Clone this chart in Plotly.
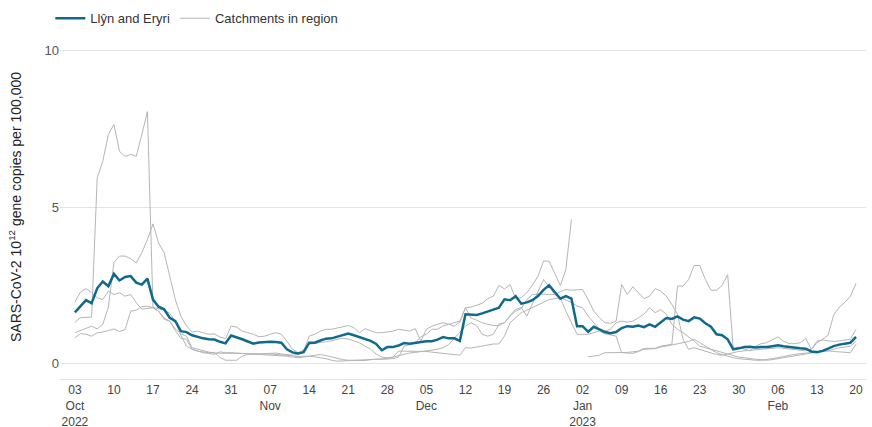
import pandas as pd
import plotly.graph_objects as go

start_date = "2022-10-03"
end_date = "2023-02-20"

llyn_eryri = [
    1.63, 1.81, 2.02, 1.92, 2.40, 2.62, 2.47,
    2.86, 2.65, 2.76, 2.79, 2.58, 2.52, 2.71,
    2.04, 1.81, 1.73, 1.46, 1.35, 1.03, 1.00,
    0.90, 0.84, 0.80, 0.77, 0.76, 0.69, 0.64,
    0.89, 0.84, 0.77, 0.70, 0.63, 0.67, 0.69,
    0.69, 0.68, 0.66, 0.45, 0.35, 0.32, 0.36,
    0.66, 0.66, 0.73, 0.79, 0.80, 0.85, 0.89,
    0.95, 0.90, 0.84, 0.78, 0.72, 0.62, 0.42,
    0.52, 0.52, 0.57, 0.65, 0.63, 0.66, 0.69,
    0.71, 0.71, 0.76, 0.84, 0.80, 0.80, 0.72,
    1.57, 1.55, 1.55, 1.60, 1.65, 1.72, 1.78,
    2.05, 2.02, 2.15, 1.91, 1.95, 2.02, 2.15,
    2.35, 2.50, 2.28, 2.07, 2.15, 2.07, 1.19,
    1.19, 1.01, 1.17, 1.09, 1.00, 0.96, 1.00,
    1.13, 1.19, 1.17, 1.21, 1.16, 1.25, 1.17,
    1.30, 1.45, 1.42, 1.50, 1.40, 1.35, 1.47,
    1.43, 1.28, 1.17, 0.93, 0.90, 0.77, 0.45,
    0.48, 0.52, 0.53, 0.51, 0.52, 0.52, 0.55,
    0.58, 0.55, 0.52, 0.50, 0.48, 0.47, 0.38,
    0.36, 0.40, 0.47, 0.55, 0.60, 0.62, 0.66,
    0.85,
]

catchment_1 = [
    1.31, 1.46, 1.47, 1.48, 5.93, 6.46, 7.32,
    7.64, 6.78, 6.62, 6.68, 6.62, 7.32, 8.05,
    1.79, 1.75, 1.70, 1.60, 1.35, 0.90, 0.55,
    0.45, 0.39, 0.34, 0.32, 0.29, 0.37, 0.34,
    0.34, 0.33, 0.32, 0.31, 0.30, 0.30, 0.29,
    0.28, 0.27, 0.25, 0.23, 0.20, 0.18, 0.20,
    0.23, 0.21, 0.19, 0.15, 0.10, 0.07, 0.08,
    0.09, 0.10, 0.11, 0.12, 0.13, 0.13, 0.13,
    0.15, 0.20, 0.39, 0.39, 0.39, 0.39, 0.39,
    0.38, 0.36, 0.34, 0.31, 0.29, 0.27, 0.26,
    0.50, 0.49, 0.52, 0.55, 0.58, 0.62, 0.62,
    0.87, 1.30, 1.46, 1.62, 1.70, 1.78, 1.88,
    1.95, 2.04, 2.07, 2.10, 1.67, 1.30, 0.93,
    0.93, 0.93, 0.98, 1.03, 0.95, 0.90, 0.87,
    0.34, 0.33, 0.32, 0.38, 0.45, 0.46, 0.47,
    0.52, 0.55, 0.58, 0.61, 0.66, 0.70, 0.77,
    0.66, 0.55, 0.45, 0.34, 0.28, 0.22, 0.18,
    0.15, 0.13, 0.12, 0.10, 0.10, 0.12, 0.15,
    0.18, 0.22, 0.26, 0.29, 0.31, 0.33, 0.34,
    0.36, 0.38, 0.40, 0.45, 0.50, 0.52, 0.55,
    0.70,
]

catchment_2 = [
    0.98, 1.05, 1.14, 1.19, 1.10, 1.25, 1.80,
    3.22, 3.43, 3.43, 3.35, 3.21, 3.54, 3.96,
    4.46, 3.85, 3.54, 2.79, 2.04, 1.51, 1.20,
    1.00, 1.03, 0.98, 0.93, 0.94, 0.84, 0.79,
    1.19, 1.16, 1.03, 0.98, 0.93, 0.85, 0.87,
    0.93, 0.98, 0.93, 0.71, 0.45, 0.34, 0.40,
    0.87, 0.93, 1.03, 1.09, 1.09, 1.13, 1.16,
    1.21, 1.14, 0.98, 1.11, 1.05, 0.98, 0.98,
    1.00, 1.03, 1.09, 1.06, 1.03, 1.11, 0.71,
    1.09, 1.19, 1.25, 1.30, 1.25, 1.19, 1.32,
    1.78, 1.80, 1.85, 1.92, 2.07, 2.15, 2.49,
    2.38, 2.52, 2.07, 2.10, 2.26, 2.50, 2.79,
    3.27, 3.27, 2.88, 2.49, 3.00, 4.60, None,
    None, 0.21, 0.24, 0.26, 0.34, 0.34, 0.34,
    0.34, 0.35, 0.37, 0.39, 0.48, 0.48, 0.48,
    0.55, 0.58, 0.61, 2.47, 2.47, 2.68, 3.13,
    3.13, 2.68, 2.34, 2.34, 2.49, 2.84, 0.45,
    0.52, 0.45, 0.40, 0.55, 0.63, 0.66, 0.75,
    0.85, 0.71, 0.63, 0.63, 0.66, 0.79, 0.45,
    0.71, 0.75, 0.72, 0.70, 0.72, 0.74, 0.77,
    1.09,
]

catchment_3 = [
    1.96, 2.28, 2.39, 2.26, 2.10, 2.04, 2.31,
    2.20, 2.26, 2.15, 2.20, 1.94, 1.73, 1.76,
    1.78, 1.67, 1.45, 1.35, 1.10, 0.95, 0.87,
    0.50, 0.45, 0.39, 0.36, 0.33, 0.32, 0.31,
    0.32, 0.32, 0.31, 0.30, 0.30, 0.30, 0.31,
    0.32, 0.33, 0.30, 0.28, 0.26, 0.28, 0.45,
    0.61, 0.64, 0.66, 0.70, 0.72, 0.77, 0.80,
    0.78, 0.72, 0.66, 0.55, 0.45, 0.30, 0.20,
    0.18, 0.20, 0.25, 0.30, 0.33, 0.35, 0.37,
    0.40, 0.42, 0.45, 0.50, 0.60, 0.80, 1.00,
    1.19, 1.30, 1.21, 0.93, 0.87, 0.93, 1.25,
    1.30, 1.51, 1.67, 1.75, 2.04, 2.20, 2.22,
    2.22, 2.22, 2.20, 2.30, 2.36, 2.34, 2.36,
    2.36, 2.04, 1.67, 1.46, 1.30, 1.28, 1.35,
    2.52, 2.20, 2.45, 2.26, 2.07, 2.15, 2.39,
    2.31, 2.15, 1.88, 1.57, 0.77, 0.45, 0.50,
    0.45, 0.40, 0.34, 0.28, 0.26, 0.30, 0.35,
    0.38, 0.40, 0.42, 0.44, 0.46, 0.47, 0.50,
    0.50, 0.48, 0.46, 0.44, 0.42, 0.40, 0.45,
    0.66, 0.77, 0.90, 1.55, 1.80, 1.95, 2.15,
    2.56,
]

catchment_4 = [
    0.82, 0.95, 0.93, 0.87, 0.98, 1.00, 1.05,
    1.10, 1.02, 1.08, 1.67, 1.70, 1.81, 1.83,
    1.78, 1.67, 1.41, 1.35, 1.05, 0.80, 0.77,
    0.45, 0.39, 0.36, 0.34, 0.35, 0.19, 0.10,
    0.10, 0.10, 0.23, 0.29, 0.30, 0.31, 0.30,
    0.30, 0.29, 0.28, 0.26, 0.24, 0.22, 0.22,
    0.23, 0.26, 0.28, 0.25, 0.20, 0.15, 0.12,
    0.10, 0.09, 0.08, 0.09, 0.12, 0.13, 0.13,
    0.13, 0.15, 0.20, 0.55, 0.60, 0.66, 0.85,
    0.93, 1.09, 1.09, 1.20, 1.25, 1.30, 1.35,
    1.78, 1.45, 1.38, 1.30, 1.25, 1.21, 1.21,
    1.30, 1.53, 1.73, 1.78, 1.51, 1.90, 2.30,
    2.68, 2.45, 2.20, 2.10, 2.02, 1.95, 1.83,
    1.78, 1.51, 1.30, 1.09, 1.03, 1.09, 1.30,
    1.35, 1.32, 1.35, 1.46, 1.57, 1.78, 1.62,
    1.72, 1.57, 1.25, 1.09, 0.98, 0.85, 0.71,
    0.55, 0.50, 0.45, 0.40, 0.35, 0.30, 0.26,
    0.20, 0.18, 0.15, 0.13, 0.12, 0.10, 0.12,
    0.15, 0.18, 0.22, 0.26, 0.29, 0.32, 0.34,
    0.36, 0.38, 0.40, 0.38, 0.36, 0.34, 0.34,
    0.61,
]

tick_dates = ["2022-10-03", "2022-10-10", "2022-10-17", "2022-10-24", "2022-10-31",
              "2022-11-07", "2022-11-14", "2022-11-21", "2022-11-28", "2022-12-05",
              "2022-12-12", "2022-12-19", "2022-12-26", "2023-01-02", "2023-01-09",
              "2023-01-16", "2023-01-23", "2023-01-30", "2023-02-06", "2023-02-13",
              "2023-02-20"]
tick_labels = ["03<br>Oct<br>2022", "10", "17", "24", "31",
               "07<br>Nov", "14", "21", "28", "05<br>Dec",
               "12", "19", "26", "02<br>Jan<br>2023", "09",
               "16", "23", "30", "06<br>Feb", "13", "20"]

dates = pd.date_range(start_date, end_date, freq="D")

BLUE = "#0f6a8c"
GREY = "#b5b5b5"
FONT = "'Liberation Sans', Arial, sans-serif"

fig = go.Figure()
for series in [catchment_1, catchment_2, catchment_3, catchment_4]:
    fig.add_trace(go.Scatter(
        x=dates, y=series, mode="lines",
        line=dict(color=GREY, width=1),
        name="Catchments in region", showlegend=False, connectgaps=False,
    ))
fig.add_trace(go.Scatter(
    x=dates, y=llyn_eryri, mode="lines",
    line=dict(color=BLUE, width=2.5),
    name="Llŷn and Eryri", showlegend=True,
))
fig.add_trace(go.Scatter(
    x=[None], y=[None], mode="lines",
    line=dict(color=GREY, width=1),
    name="Catchments in region", showlegend=True,
))

fig.update_layout(
    width=872, height=427,
    margin=dict(l=60, r=6, t=35, b=48, autoexpand=False),
    plot_bgcolor="white", paper_bgcolor="white",
    font=dict(family=FONT, size=13, color="#333333"),
    legend=dict(orientation="h", x=-0.012, xanchor="left", y=1.005, yanchor="bottom",
                font=dict(family=FONT, size=13, color="#333333"), traceorder="normal",
                bgcolor="rgba(0,0,0,0)"),
    showlegend=True,
)
fig.update_xaxes(
    type="date", automargin=False,
    range=["2022-09-30 08:00", "2023-02-21 19:00"],
    tickvals=tick_dates, ticktext=tick_labels,
    showgrid=False, zeroline=False,
    showline=True, linecolor="#e3e3e3", linewidth=1,
    ticks="", tickfont=dict(family=FONT, size=12, color="#444444"),
)
fig.update_yaxes(
    automargin=False,
    range=[-0.5, 10.5],
    tickvals=[0, 5, 10], ticktext=["0", "5", "10"],
    showgrid=True, gridcolor="#e3e3e3", gridwidth=1,
    zeroline=False, showline=False, ticks="",
    tickfont=dict(family=FONT, size=13, color="#555555"),
    title=dict(text="SARS-CoV-2 10<sup>12</sup> gene copies per 100,000",
               font=dict(family=FONT, size=14, color="#222222"), standoff=19),
)

fig.write_html(
    "out.html",
    config={"displayModeBar": False},
    post_script="document.body.style.margin='0';document.body.style.overflow='hidden';",
)
